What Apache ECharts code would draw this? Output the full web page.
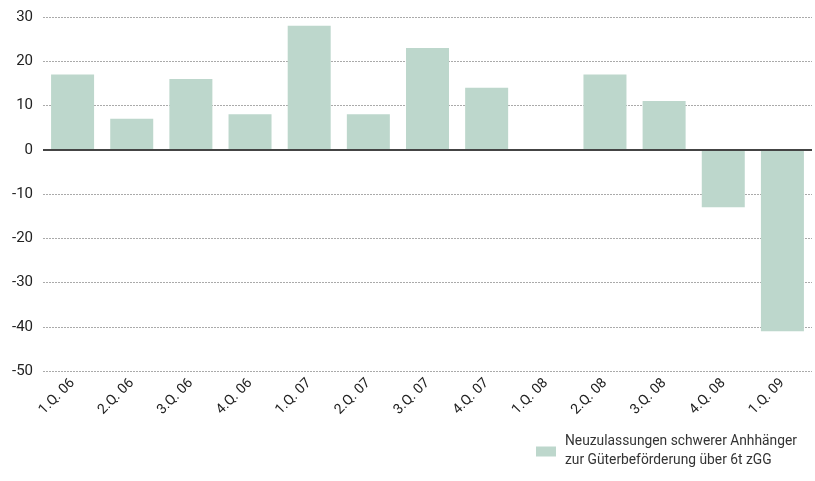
<!DOCTYPE html>
<html><head><meta charset="utf-8">
<script src="https://cdn.jsdelivr.net/npm/echarts@6/dist/echarts.min.js"></script>
<style>html,body{margin:0;padding:0;background:#fff}#c{width:815px;height:481px}</style>
</head><body><div id="c"></div>
<script>
const categories = ['1.Q. 06','2.Q. 06','3.Q. 06','4.Q. 06','1.Q. 07','2.Q. 07','3.Q. 07','4.Q. 07','1.Q. 08','2.Q. 08','3.Q. 08','4.Q. 08','1.Q. 09'];
const values = [17, 7, 16, 8, 28, 8, 23, 14, 0, 17, 11, -13, -41];
const seriesName = 'Neuzulassungen schwerer Anhhänger\nzur Güterbeförderung über 6t zGG';
const yTicks = { min: -50, max: 30, interval: 10 };

const chart = echarts.init(document.getElementById('c'));
chart.setOption({
  animation: false,
  textStyle: { fontFamily: 'Roboto' },
  grid: { left: 43, right: 3, top: 17, bottom: 110 },
  legend: {
    left: 531, top: 418,
    itemWidth: 20, itemHeight: 10, itemGap: 0,
    icon: 'rect',
    textStyle: { fontSize: 13.8, color: '#333', lineHeight: 19, padding: [19, 0, 0, 4], fontFamily: 'Roboto' },
    data: [seriesName]
  },
  xAxis: {
    type: 'category', data: categories,
    axisLine: { show: false, onZero: false },
    axisTick: { show: false },
    axisLabel: { interval: 0, rotate: 45, fontSize: 14, color: '#222', margin: 10 }
  },
  yAxis: {
    type: 'value', min: yTicks.min, max: yTicks.max, interval: yTicks.interval,
    axisLine: { show: false }, axisTick: { show: false },
    axisLabel: { fontSize: 15, color: '#222', margin: 10 },
    splitLine: { lineStyle: { type: [2, 1], color: '#aaa', width: 1 } }
  },
  series: [{
    name: seriesName, type: 'bar', data: values,
    barWidth: 43,
    itemStyle: { color: '#bdd7cc' },
    markLine: {
      silent: true, symbol: 'none', label: { show: false },
      lineStyle: { color: '#444', type: 'solid', width: 2 },
      data: [{ yAxis: 0 }]
    }
  }]
});
</script></body></html>
